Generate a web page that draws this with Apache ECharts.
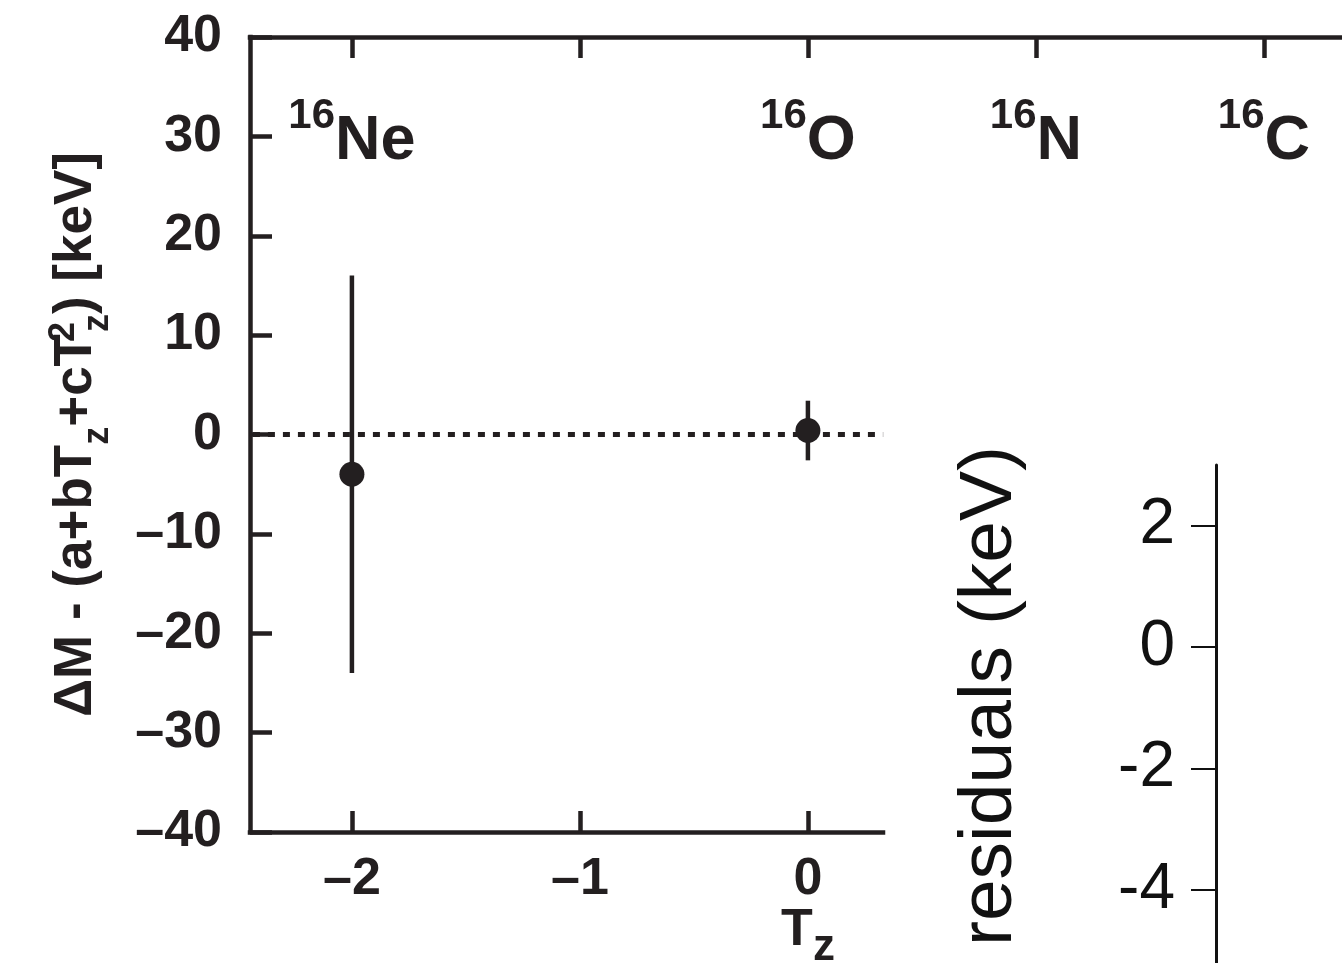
<!DOCTYPE html>
<html>
<head>
<meta charset="utf-8">
<script src="https://cdn.jsdelivr.net/npm/echarts@6/dist/echarts.min.js"></script>
<style>html,body{margin:0;padding:0;background:#fff}#c{width:1342px;height:963px}</style>
</head>
<body>
<div id="c"></div>
<script>
// ---- data ----
const tzValues = [-2, 0];                 // T_z of measured points
const residMass = [-4, 0.4];              // ΔM - fit (keV)
const residErr = [20, 3];                 // uncertainty (keV)
const nucleusTz = [-2, 0, 1, 2];
const nucleusMass = ['16', '16', '16', '16'];
const nucleusElem = ['Ne', 'O', 'N', 'C'];
const xTicksBottom = [-2, -1, 0];
const xTicksTop = [-2, -1, 0, 1, 2];
const yTicksMain = [-40, -30, -20, -10, 0, 10, 20, 30, 40];
const yTicksResid = [-4, -2, 0, 2];
const zeroLineX = [-2.5, 0.33];

const INK = '#231f20';
const FONT = '"Liberation Sans", Arial, Helvetica, sans-serif';
const dashFmt = v => (v < 0 ? '\u2013' + (-v) : String(v));

const chart = echarts.init(document.getElementById('c'), null, {renderer: 'canvas'});

const errData = tzValues.map((t, i) => [t, residMass[i] - residErr[i], residMass[i] + residErr[i]]);
const ptData = tzValues.map((t, i) => [t, residMass[i]]);
const LABEL_ROW = 31;
const labelData = nucleusTz.map((t, i) => ({value: [t, LABEL_ROW], mass: nucleusMass[i], elem: nucleusElem[i]}));

const option = {
  animation: false,
  backgroundColor: '#fff',
  grid: [
    {left: 250, top: 37, width: 633, height: 795, outerBoundsMode: 'none', containLabel: false},
    {left: 250, top: 37, width: 1092, height: 795, outerBoundsMode: 'none', containLabel: false},
    {left: 1216, top: 465, width: 126, height: 498, outerBoundsMode: 'none', containLabel: false}
  ],
  xAxis: [
    {
      gridIndex: 0, type: 'value', min: -2.447, max: -2.447 + 633 / 228, position: 'bottom',
      axisLine: {onZero: false, lineStyle: {color: INK, width: 4.5, cap: 'square'}},
      axisTick: {inside: true, length: 21, lineStyle: {color: INK, width: 4.5}, customValues: xTicksBottom},
      axisLabel: {customValues: xTicksBottom, formatter: dashFmt, color: INK, fontFamily: FONT, fontWeight: 'bold', fontSize: 52, margin: 22},
      splitLine: {show: false},
      name: '{T|T}{z|z}', nameLocation: 'end', nameGap: -75, nameMoveOverlap: false,
      nameTextStyle: {
        align: 'center', verticalAlign: 'top', padding: [73, 0, 0, 0],
        rich: {
          T: {fontFamily: FONT, fontWeight: 'bold', fontSize: 52, lineHeight: 52, color: INK, verticalAlign: 'top'},
          z: {fontFamily: FONT, fontWeight: 'bold', fontSize: 44, lineHeight: 44, color: INK, verticalAlign: 'top', padding: [21, 0, 0, 0]}
        }
      }
    },
    {
      gridIndex: 1, type: 'value', min: -2.447, max: -2.447 + 1092 / 228, position: 'top',
      axisLine: {onZero: false, lineStyle: {color: INK, width: 4.5, cap: 'square'}},
      axisTick: {inside: true, length: 21, lineStyle: {color: INK, width: 4.5}, customValues: xTicksTop},
      axisLabel: {show: false},
      splitLine: {show: false}
    },
    {gridIndex: 2, type: 'value', min: 0, max: 1, show: false}
  ],
  yAxis: [
    {
      gridIndex: 0, type: 'value', min: -40, max: 40, interval: 10,
      axisLine: {onZero: false, lineStyle: {color: INK, width: 4.5, cap: 'square'}},
      axisTick: {inside: true, length: 22, lineStyle: {color: INK, width: 4.5}, customValues: yTicksMain},
      axisLabel: {customValues: yTicksMain, formatter: dashFmt, color: INK, fontFamily: FONT, fontWeight: 'bold', fontSize: 52, margin: 28},
      splitLine: {show: false},
      name: '{n|\u0394M - (a+bT}{sub|z}{n|+cT}{sup|2}{sub|z}{n|) [keV]}',
      nameLocation: 'middle', nameRotate: 90, nameGap: 157, nameMoveOverlap: false,
      nameTextStyle: {
        rich: {
          n: {fontFamily: FONT, fontWeight: 'bold', fontSize: 53, lineHeight: 53, color: INK, verticalAlign: 'top', padding: [10, 0, 0, 0]},
          sup: {fontFamily: FONT, fontWeight: 'bold', fontSize: 36, lineHeight: 36, color: INK, verticalAlign: 'top', padding: [6, 0, 0, 2], width: 0},
          sub: {fontFamily: FONT, fontWeight: 'bold', fontSize: 36, lineHeight: 36, color: INK, verticalAlign: 'top', padding: [40, 0, 0, 0]}
        }
      }
    },
    {gridIndex: 1, type: 'value', min: -40, max: 40, show: false},
    {
      gridIndex: 2, type: 'value', min: -5.2, max: 3,
      axisLine: {onZero: false, lineStyle: {color: '#111', width: 3}},
      axisTick: {inside: false, length: 25, lineStyle: {color: '#111', width: 2}, customValues: yTicksResid},
      axisLabel: {customValues: yTicksResid, color: '#111', fontFamily: FONT, fontSize: 64, margin: 41},
      splitLine: {show: false},
      name: 'residuals (keV)', nameLocation: 'middle', nameRotate: 90, nameGap: 188, nameMoveOverlap: false,
      nameTextStyle: {color: '#111', fontFamily: FONT, fontSize: 75, padding: [0, 0, 0, 36]}
    }
  ],
  series: [
    {
      type: 'line', xAxisIndex: 0, yAxisIndex: 0, clip: false, symbol: 'none', silent: true,
      data: zeroLineX.map(x => [x, 0]),
      lineStyle: {color: INK, width: 5, type: [7, 8]}, z: 2
    },
    {
      type: 'custom', xAxisIndex: 0, yAxisIndex: 0, data: errData, encode: {x: 0, y: [1, 2]}, z: 3,
      renderItem: function (params, api) {
        const x = api.value(0);
        const p1 = api.coord([x, api.value(1)]);
        const p2 = api.coord([x, api.value(2)]);
        return {type: 'line', shape: {x1: p1[0], y1: p1[1], x2: p2[0], y2: p2[1]}, style: {stroke: INK, lineWidth: 4.5}};
      }
    },
    {
      type: 'scatter', xAxisIndex: 0, yAxisIndex: 0, data: ptData, symbol: 'circle', symbolSize: 25,
      itemStyle: {color: INK, opacity: 1}, z: 4
    },
    {
      type: 'scatter', xAxisIndex: 1, yAxisIndex: 1, data: labelData, symbolSize: 1,
      itemStyle: {color: 'rgba(0,0,0,0)', opacity: 1}, z: 5,
      label: {
        show: true, position: 'inside', opacity: 1,
        formatter: p => '{m|' + p.data.mass + '}{e|' + p.data.elem + '}',
        rich: {
          m: {fontFamily: FONT, fontWeight: 'bold', fontSize: 42, lineHeight: 42, color: INK, verticalAlign: 'top'},
          e: {fontFamily: FONT, fontWeight: 'bold', fontSize: 63, lineHeight: 63, color: INK, verticalAlign: 'top', padding: [15, 0, 0, 0]}
        }
      }
    }
  ]
};
chart.setOption(option);
</script>
</body>
</html>
